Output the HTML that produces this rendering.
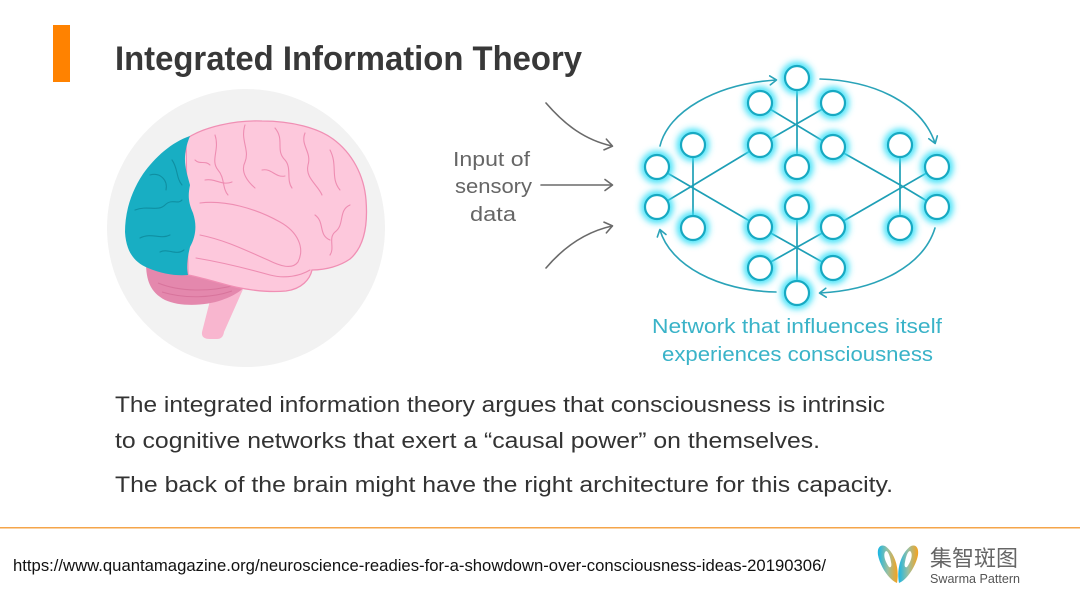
<!DOCTYPE html>
<html><head><meta charset="utf-8"><style>
html,body{margin:0;padding:0;background:#fff;}
svg{display:block;}
</style></head><body>
<svg width="1080" height="593" viewBox="0 0 1080 593" xmlns="http://www.w3.org/2000/svg">
<defs>
<filter id="glow" x="-80%" y="-80%" width="260%" height="260%">
<feGaussianBlur stdDeviation="3.5"/>
</filter>
<marker id="ah" markerWidth="12" markerHeight="12" refX="9" refY="6" orient="auto" markerUnits="userSpaceOnUse">
<path d="M3,1.5 L9.5,6 L3,10.5" fill="none" stroke="#2aa3b8" stroke-width="1.6" stroke-linecap="round" stroke-linejoin="round"/>
</marker>
<marker id="ag" markerWidth="14" markerHeight="14" refX="10" refY="7" orient="auto" markerUnits="userSpaceOnUse">
<path d="M3,1.5 L10.5,7 L3,12.5" fill="none" stroke="#6a6a6a" stroke-width="1.6" stroke-linecap="round" stroke-linejoin="round"/>
</marker>
<linearGradient id="bf" x1="0" y1="0" x2="1" y2="0">
<stop offset="0" stop-color="#16b6e6"/>
<stop offset="0.5" stop-color="#9cc0a0"/>
<stop offset="1" stop-color="#f7a21b"/>
</linearGradient>
</defs>

<!-- orange bar & title -->
<rect x="53" y="25" width="17" height="57" fill="#ff8200"/>
<text x="115" y="70" font-family="Liberation Sans, sans-serif" font-size="34" font-weight="bold" fill="#383838" textLength="467" lengthAdjust="spacingAndGlyphs">Integrated Information Theory</text>

<!-- brain -->
<circle cx="246" cy="228" r="139" fill="#f2f2f2"/>
<!-- stem -->
<path d="M214,285 L202,332 Q201,339 210,339 L217,339 Q223,339 224,332 L244,287 Z" fill="#f8b6cf"/>
<!-- cerebellum -->
<path d="M146,262 C146,280 150,292 165,300 C180,307 205,306 222,300 C236,295 244,289 246,284 L230,276 L188,272 L150,264 Z" fill="#e488ad"/>
<path d="M158,283 C180,292 210,292 236,285 M162,292 C185,299 212,298 232,291" fill="none" stroke="#d8749c" stroke-width="1"/>
<!-- cerebrum pink -->
<path d="M186,139 C203,127 235,120 262,121 C292,121 318,128 333,139 C352,153 364,175 366,200 C368,225 364,247 350,259 C340,266 326,270 312,270 C310,279 302,289 286,291 C265,293 240,289 220,283 C205,279 195,276 188,275 Z" fill="#fdc8dc" stroke="#f08fb4" stroke-width="1.3"/>
<!-- blue occipital -->
<path d="M190,136 C172,142 155,157 143,174 C131,192 125,212 125,232 C126,250 133,262 148,268 C162,274 176,276 188,275 C186,266 188,255 190,247 C196,236 197,225 193,213 C188,202 188,195 190,185 C186,170 181,158 190,136 Z" fill="#18aec3"/>
<g fill="none" stroke="#0f8fa2" stroke-width="1.1" stroke-linecap="round">
<path d="M150,175 C160,172 168,180 166,190"/>
<path d="M135,210 C148,205 158,212 165,205 C172,198 178,205 182,200"/>
<path d="M140,238 C152,232 160,240 170,235"/>
<path d="M160,252 C168,248 176,256 184,250"/>
<path d="M172,160 C178,168 176,178 182,185"/>
</g>
<!-- pink sulci -->
<g fill="none" stroke="#ee8db2" stroke-width="1.1" stroke-linecap="round">
<path d="M200,203 C225,200 255,208 280,222 C298,232 305,248 298,262 C292,270 280,266 268,260 C245,250 225,240 200,235"/>
<path d="M196,258 C220,262 245,268 270,275 C285,279 300,276 310,270"/>
<path d="M215,135 C220,150 210,160 218,170 C225,178 222,188 228,195"/>
<path d="M245,125 C240,140 250,150 245,162 C240,172 248,182 255,188"/>
<path d="M275,128 C285,140 275,150 285,160 C292,168 286,180 292,188"/>
<path d="M305,133 C300,145 312,152 308,165 C305,178 318,185 322,195"/>
<path d="M330,150 C338,165 330,178 340,190"/>
<path d="M350,205 C338,210 345,225 335,232 C328,238 335,248 330,255"/>
<path d="M315,215 C325,222 318,235 330,240"/>
<path d="M205,180 C215,178 222,186 232,182"/>
<path d="M262,170 C272,168 275,178 285,176"/>
<path d="M195,160 C200,165 205,160 210,165"/>
</g>

<!-- input arrows & text -->
<g fill="none" stroke="#6a6a6a" stroke-width="1.6" stroke-linecap="round">
<path d="M546,103 C565,125 585,140 612,146" marker-end="url(#ag)"/>
<path d="M541,185 L612,185" marker-end="url(#ag)"/>
<path d="M546,268 C563,248 585,232 612,226" marker-end="url(#ag)"/>
</g>
<g font-family="Liberation Sans, sans-serif" font-size="20" fill="#666">
<text x="453" y="166" textLength="77" lengthAdjust="spacingAndGlyphs">Input of</text>
<text x="455" y="193" textLength="77" lengthAdjust="spacingAndGlyphs">sensory</text>
<text x="470" y="221" textLength="46" lengthAdjust="spacingAndGlyphs">data</text>
</g>

<!-- network edges -->
<g stroke="#1e9fb6" stroke-width="1.7" fill="none">
<line x1="797" y1="78" x2="797" y2="167"/>
<line x1="760" y1="103" x2="833" y2="147"/>
<line x1="833" y1="103" x2="760" y2="145"/>
<line x1="760" y1="145" x2="692" y2="186"/>
<line x1="833" y1="147" x2="902" y2="186"/>
<line x1="657" y1="167" x2="760" y2="227"/>
<line x1="657" y1="207" x2="692" y2="186"/>
<line x1="693" y1="145" x2="693" y2="228"/>
<line x1="937" y1="167" x2="833" y2="227"/>
<line x1="937" y1="207" x2="902" y2="186"/>
<line x1="900" y1="145" x2="900" y2="228"/>
<line x1="797" y1="207" x2="797" y2="293"/>
<line x1="760" y1="227" x2="833" y2="268"/>
<line x1="833" y1="227" x2="760" y2="268"/>
</g>
<!-- outer loop arrows -->
<g fill="none" stroke="#2aa3b8" stroke-width="1.6" stroke-linecap="round">
<path d="M660,146 C668,112 715,84 776,80" marker-end="url(#ah)"/>
<path d="M820,79 C878,81 922,105 935,143" marker-end="url(#ah)"/>
<path d="M935,228 C924,264 880,290 820,293" marker-end="url(#ah)"/>
<path d="M776,292 C718,291 670,265 660,230" marker-end="url(#ah)"/>
</g>
<!-- nodes -->
<g>
<g filter="url(#glow)" fill="none" stroke="#35e0f8" stroke-width="8">
<circle cx="797" cy="78" r="12"/><circle cx="760" cy="103" r="12"/><circle cx="833" cy="103" r="12"/>
<circle cx="760" cy="145" r="12"/><circle cx="833" cy="147" r="12"/><circle cx="797" cy="167" r="12"/>
<circle cx="657" cy="167" r="12"/><circle cx="657" cy="207" r="12"/><circle cx="693" cy="145" r="12"/><circle cx="693" cy="228" r="12"/>
<circle cx="937" cy="167" r="12"/><circle cx="937" cy="207" r="12"/><circle cx="900" cy="145" r="12"/><circle cx="900" cy="228" r="12"/>
<circle cx="797" cy="207" r="12"/><circle cx="760" cy="227" r="12"/><circle cx="833" cy="227" r="12"/>
<circle cx="760" cy="268" r="12"/><circle cx="833" cy="268" r="12"/><circle cx="797" cy="293" r="12"/>
</g>
<g fill="#fff" stroke="#17a9c2" stroke-width="2.2">
<circle cx="797" cy="78" r="12"/><circle cx="760" cy="103" r="12"/><circle cx="833" cy="103" r="12"/>
<circle cx="760" cy="145" r="12"/><circle cx="833" cy="147" r="12"/><circle cx="797" cy="167" r="12"/>
<circle cx="657" cy="167" r="12"/><circle cx="657" cy="207" r="12"/><circle cx="693" cy="145" r="12"/><circle cx="693" cy="228" r="12"/>
<circle cx="937" cy="167" r="12"/><circle cx="937" cy="207" r="12"/><circle cx="900" cy="145" r="12"/><circle cx="900" cy="228" r="12"/>
<circle cx="797" cy="207" r="12"/><circle cx="760" cy="227" r="12"/><circle cx="833" cy="227" r="12"/>
<circle cx="760" cy="268" r="12"/><circle cx="833" cy="268" r="12"/><circle cx="797" cy="293" r="12"/>
</g>
</g>
<g font-family="Liberation Sans, sans-serif" font-size="20" fill="#3ab3c8">
<text x="652" y="333" textLength="290" lengthAdjust="spacingAndGlyphs">Network that influences itself</text>
<text x="662" y="361" textLength="271" lengthAdjust="spacingAndGlyphs">experiences consciousness</text>
</g>

<!-- body text -->
<g font-family="Liberation Sans, sans-serif" font-size="22" fill="#333">
<text x="115" y="412" textLength="770" lengthAdjust="spacingAndGlyphs">The integrated information theory argues that consciousness is intrinsic</text>
<text x="115" y="448" textLength="705" lengthAdjust="spacingAndGlyphs">to cognitive networks that exert a “causal power” on themselves.</text>
<text x="115" y="492" textLength="778" lengthAdjust="spacingAndGlyphs">The back of the brain might have the right architecture for this capacity.</text>
</g>

<!-- footer -->
<rect x="0" y="527" width="1080" height="1.5" fill="#f5a54a"/>
<text x="13" y="571" font-family="Liberation Sans, sans-serif" font-size="17" fill="#111" textLength="813" lengthAdjust="spacingAndGlyphs">https://www.quantamagazine.org/neuroscience-readies-for-a-showdown-over-consciousness-ideas-20190306/</text>
<!-- logo -->
<path fill-rule="evenodd" fill="url(#bf)" d="M897,583 C889,580 880,566 878,555 C877,548 880,544 885,546 C893,551 900,566 897,583 Z M886,551 C883,553 884,560 889,567 C891,568 892,566 891,562 C890,556 888,551 886,551 Z"/>
<path fill-rule="evenodd" fill="url(#bf)" d="M899,583 C907,580 916,566 918,555 C919,548 916,544 911,546 C903,551 896,566 899,583 Z M910,551 C913,553 912,560 907,567 C905,568 904,566 905,562 C906,556 908,551 910,551 Z"/>
<text x="930" y="566" font-family="Liberation Sans, 'Noto Sans CJK SC', sans-serif" font-size="22" fill="#666" textLength="88" lengthAdjust="spacingAndGlyphs">集智斑图</text>
<text x="930" y="583" font-family="Liberation Sans, sans-serif" font-size="13" fill="#555" textLength="90" lengthAdjust="spacingAndGlyphs">Swarma Pattern</text>
</svg>
</body></html>
